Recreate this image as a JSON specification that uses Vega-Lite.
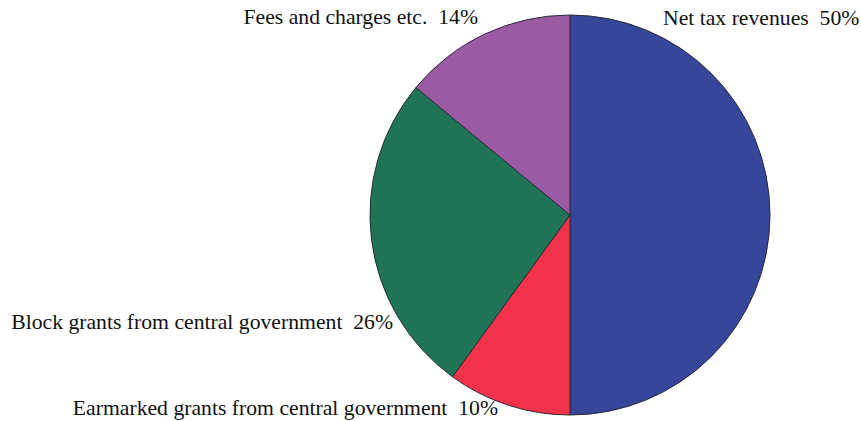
{
  "$schema": "https://vega.github.io/schema/vega-lite/v6.json",
  "autosize": {"type": "none"},
  "padding": {"left": 279, "top": 9, "right": 0, "bottom": 0},
  "width": 582,
  "height": 412,
  "background": "white",
  "config": {"view": {"stroke": null}},
  "data": {"values": [
    {"category": "Net tax revenues", "share": 50, "ord": 1, "label": "Net tax revenues \u00a050%", "labelAngle": 26.08, "labelR": 211.5, "side": "left"},
    {"category": "Earmarked grants from central government", "share": 10, "ord": 2, "label": "Earmarked grants from central government \u00a010%", "labelAngle": 199.8, "labelR": 212.6, "side": "right"},
    {"category": "Block grants from central government", "share": 26, "ord": 3, "label": "Block grants from central government \u00a026%", "labelAngle": 237.22, "labelR": 210.5, "side": "right"},
    {"category": "Fees and charges etc.", "share": 14, "ord": 4, "label": "Fees and charges etc. \u00a014%", "labelAngle": 334.28, "labelR": 212, "side": "right"}
  ]},
  "layer": [
    {
      "mark": {"type": "arc", "radius": 200, "stroke": "#2a2a3a", "strokeWidth": 1},
      "encoding": {
        "theta": {"field": "share", "type": "quantitative", "stack": true},
        "order": {"field": "ord", "type": "quantitative"},
        "color": {
          "field": "category", "type": "nominal", "legend": null,
          "scale": {
            "domain": ["Net tax revenues", "Earmarked grants from central government", "Block grants from central government", "Fees and charges etc."],
            "range": ["#36469a", "#f0334b", "#1f7456", "#9a5ba2"]
          }
        }
      }
    },
    {
      "transform": [{"filter": "datum.side === 'right'"}],
      "mark": {"type": "text", "align": "right", "baseline": "alphabetic", "font": "Liberation Serif, DejaVu Serif, serif", "fontSize": 21.7, "color": "#111"},
      "encoding": {
        "theta": {"field": "labelAngle", "type": "quantitative", "scale": {"type": "linear", "domain": [0, 360], "range": [0, 6.283185307]}},
        "radius": {"field": "labelR", "type": "quantitative", "scale": {"type": "linear", "domain": [0, 250], "range": [0, 250]}},
        "text": {"field": "label"}
      }
    },
    {
      "transform": [{"filter": "datum.side === 'left'"}],
      "mark": {"type": "text", "align": "left", "baseline": "alphabetic", "font": "Liberation Serif, DejaVu Serif, serif", "fontSize": 21.7, "color": "#111"},
      "encoding": {
        "theta": {"field": "labelAngle", "type": "quantitative", "scale": {"type": "linear", "domain": [0, 360], "range": [0, 6.283185307]}},
        "radius": {"field": "labelR", "type": "quantitative", "scale": {"type": "linear", "domain": [0, 250], "range": [0, 250]}},
        "text": {"field": "label"}
      }
    }
  ],
  "resolve": {"scale": {"theta": "independent", "radius": "independent"}}
}
